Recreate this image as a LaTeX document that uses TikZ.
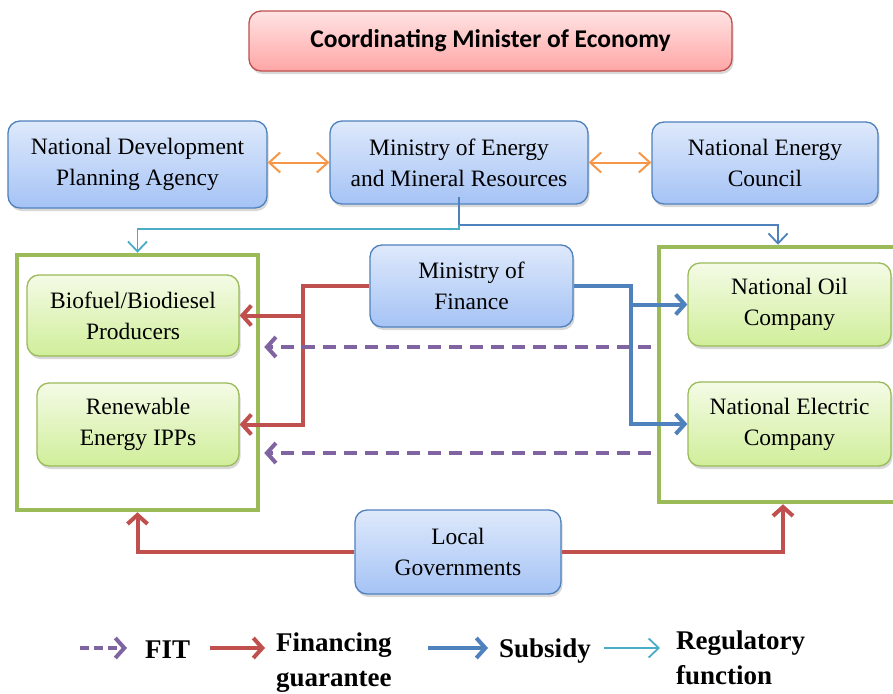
\documentclass[tikz,border=0pt]{standalone}
\usepackage{fontspec}
\setmainfont{Liberation Serif}
\newfontfamily\titlefont{Carlito}
\usetikzlibrary{arrows.meta,shadows}

\definecolor{boxblue}{HTML}{4F81BD}
\definecolor{blueTop}{HTML}{DEE9FB}
\definecolor{blueBot}{HTML}{A5C3F5}
\definecolor{grnline}{HTML}{9BBB59}
\definecolor{grnTop}{HTML}{F4FBE6}
\definecolor{grnBot}{HTML}{D0EE9A}
\definecolor{redline}{HTML}{C0504D}
\definecolor{pinkTop}{HTML}{FFE3E3}
\definecolor{pinkBot}{HTML}{FFA6A6}
\definecolor{fitpurple}{HTML}{8064A2}
\definecolor{regcyan}{HTML}{4BACC6}
\definecolor{linkorange}{HTML}{F79646}

\tikzset{
  box/.style={rounded corners=12pt, line width=1.3pt, align=center, inner sep=0pt,
    font=\fontsize{23.5}{31}\selectfont,
    drop shadow={shadow xshift=1.5pt, shadow yshift=-3pt, opacity=0.3}},
  agency/.style={box, draw=boxblue, top color=blueTop, bottom color=blueBot},
  firm/.style={box, draw=grnline, top color=grnTop, bottom color=grnBot},
  group/.style={draw=grnline, line width=4.5pt, inner sep=0pt},
  barb/.style={-{Straight Barb[length=9pt,width=20pt]}},
  fin/.style={barb, draw=redline, line width=4pt},
  sub/.style={barb, draw=boxblue, line width=4pt},
  fitarrow/.style={barb, draw=fitpurple, line width=4pt, dash pattern=on 13pt off 8pt},
  reg/.style={-{Straight Barb[length=10pt,width=19pt]}, draw=regcyan, line width=1.8pt},
  regblue/.style={-{Straight Barb[length=10pt,width=19pt]}, draw=boxblue, line width=1.8pt},
  link/.style={{Straight Barb[length=11pt,width=20pt]}-{Straight Barb[length=11pt,width=20pt]},
    draw=linkorange, line width=2pt},
  legend/.style={anchor=west, align=left, inner sep=0pt,
    font=\fontsize{27}{35}\selectfont\bfseries}
}

\begin{document}
\begin{tikzpicture}[x=1pt,y=-1pt]
\useasboundingbox[fill=white] (0,0) rectangle (893,693);

% group frames
\node[group, minimum width=241pt, minimum height=255pt] (lframe) at (137.5,382.5) {};
\node[group, minimum width=238pt, minimum height=255pt] (rframe) at (778,374.5) {};

% top level
\node[box, draw=redline, top color=pinkTop, bottom color=pinkBot,
      minimum width=483pt, minimum height=60pt,
      font=\titlefont\fontsize{25.5}{30}\selectfont\bfseries] (coord) at (490.5,41)
      {Coordinating Minister of Economy};

% agencies
\node[agency, minimum width=259pt, minimum height=87pt] (ndpa) at (137.5,164.5)
      {National Development\\Planning Agency};
\node[agency, minimum width=258pt, minimum height=83pt] (memr) at (459,162.5)
      {Ministry of Energy\\and Mineral Resources};
\node[agency, minimum width=226pt, minimum height=82pt] (nec) at (765,163)
      {National Energy\\Council};
\node[agency, minimum width=203pt, minimum height=82pt] (mof) at (471.5,286)
      {Ministry of\\Finance};
\node[agency, minimum width=206pt, minimum height=84pt] (lg) at (458,552)
      {Local\\Governments};

% companies
\node[firm, minimum width=212pt, minimum height=81pt] (bio) at (133,315.5)
      {Biofuel/Biodiesel\\Producers};
\node[firm, minimum width=202pt, minimum height=83pt] (ipp) at (138,424.5)
      {Renewable\\Energy IPPs};
\node[firm, minimum width=203pt, minimum height=83pt] (noc) at (789.5,304.5)
      {National Oil\\Company};
\node[firm, minimum width=203pt, minimum height=84pt] (pln) at (789.5,424)
      {National Electric\\Company};

% coordination links between agencies
\draw[link] (ndpa.east |- memr.west) -- (memr.west);
\draw[link] (memr.east) -- (nec.west |- memr.east);

% regulatory function
\path (memr.south) ++(0,20) coordinate (regsplit);
\draw[regblue] ([yshift=8pt]memr.south) -- (regsplit) -| (rframe.north);
\draw[reg] (regsplit) -- ++(0,4) -| (lframe.north);

% financing guarantee from the Ministry of Finance
\path (mof.west) ++(-66,0) coordinate (finsplit);
\draw[fin] (mof.west) -- (finsplit) |- (ipp.east);
\draw[fin] (finsplit) |- (bio.east);

% subsidy
\path (mof.east) ++(57,0) coordinate (subsplit);
\draw[sub] (mof.east) -- (subsplit) |- (pln.west);
\draw[sub] (subsplit) |- (noc.west);

% feed-in tariff
\draw[fitarrow] ([xshift=-6pt]rframe.west |- 0,347) -- ([xshift=4pt]lframe.east |- 0,347);
\draw[fitarrow] ([xshift=-6pt]rframe.west |- 0,453) -- ([xshift=4pt]lframe.east |- 0,453);

% financing guarantee from local governments
\draw[fin] (lg.west) -| (lframe.south);
\draw[fin] (lg.east) -| ([xshift=5pt]rframe.south);

% legend
\coordinate (k1a) at (80,648);  \coordinate (k1b) at (127,648);
\coordinate (k2a) at (210,648); \coordinate (k2b) at (265,648);
\coordinate (k3a) at (428,648); \coordinate (k3b) at (488,648);
\coordinate (k4a) at (604,648); \coordinate (k4b) at (660,648);
\draw[fitarrow, dash pattern=on 9pt off 5pt] (k1a) -- (k1b);
\draw[fin] (k2a) -- (k2b);
\draw[sub] (k3a) -- (k3b);
\draw[reg] (k4a) -- (k4b);
\node[legend] (kfit) at (145,650) {FIT};
\node[legend] (kfin) at (276,663) {Financing\\guarantee};
\node[legend] (ksub) at (499,651) {Subsidy};
\node[legend] (kreg) at (676,658) {Regulatory\\function};
\end{tikzpicture}
\end{document}
